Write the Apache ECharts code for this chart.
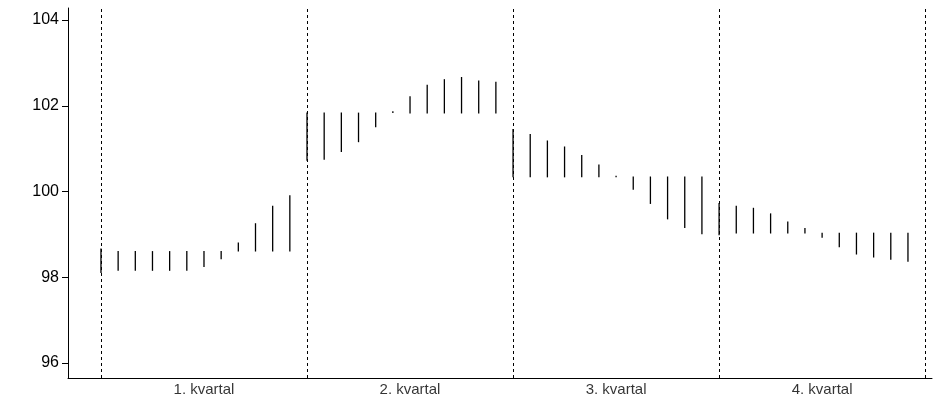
<!doctype html>
<html>
<head>
<meta charset="UTF-8">
<script src="https://cdn.jsdelivr.net/npm/echarts@6/dist/echarts.min.js"></script>
<style>body{margin:0}#main{width:934px;height:413px}</style>
</head>
<body>
<div id="main"></div>
<script>
// range per month (high, low)
var highs = [98.67, 98.61, 98.61, 98.61, 98.61, 98.61, 98.61, 98.61, 98.81, 99.26, 99.67, 99.91,
             101.84, 101.84, 101.84, 101.84, 101.84, 101.87, 102.22, 102.49, 102.62, 102.67, 102.59, 102.56,
             101.46, 101.34, 101.19, 101.05, 100.85, 100.63, 100.37, 100.35, 100.35, 100.35, 100.35, 100.35,
             99.73, 99.67, 99.62, 99.49, 99.30, 99.15, 99.04, 99.04, 99.04, 99.04, 99.04, 99.04];
var lows  = [98.10, 98.15, 98.15, 98.15, 98.15, 98.15, 98.24, 98.42, 98.60, 98.60, 98.60, 98.60,
             100.72, 100.74, 100.92, 101.15, 101.50, 101.83, 101.82, 101.82, 101.82, 101.82, 101.82, 101.82,
             100.33, 100.33, 100.33, 100.33, 100.33, 100.33, 100.33, 100.04, 99.71, 99.35, 99.15, 99.00,
             98.98, 99.02, 99.02, 99.02, 99.02, 99.02, 98.92, 98.70, 98.53, 98.46, 98.41, 98.36];
var quarters = ['1. kvartal', '2. kvartal', '3. kvartal', '4. kvartal'];
var dividers = [0, 12, 24, 36, 48];
var yTicks = [96, 98, 100, 102, 104];
var yMin = 95.65, yMax = 104.28;

var ranges = highs.map(function (h, i) { return [i, lows[i], h]; });

var chart = echarts.init(document.getElementById('main'));
chart.setOption({
  animation: false,
  grid: {left: 68, right: 2, top: 8, bottom: 35},
  xAxis: {
    type: 'value', min: -1.92, max: 48.4,
    axisLine: {onZero: false, lineStyle: {color: '#000'}},
    axisTick: {show: false}, axisLabel: {show: false}, splitLine: {show: false}
  },
  yAxis: {
    type: 'value', min: yMin, max: yMax,
    axisLine: {show: true, onZero: false, lineStyle: {color: '#000'}},
    axisTick: {show: true, length: 6, lineStyle: {color: '#000'}, customValues: yTicks},
    axisLabel: {color: '#000', fontSize: 16, fontFamily: 'Liberation Sans', margin: 9,
      customValues: yTicks},
    splitLine: {show: false}
  },
  series: [
    {
      type: 'custom',
      data: ranges,
      renderItem: function (params, api) {
        var a = api.coord([api.value(0), api.value(1)]);
        var b = api.coord([api.value(0), api.value(2)]);
        return {type: 'line', shape: {x1: a[0], y1: a[1], x2: b[0], y2: b[1]},
          style: {stroke: '#000', lineWidth: 1.3}};
      },
      markLine: {
        silent: true, symbol: 'none', label: {show: false},
        lineStyle: {color: '#000', type: [3, 3], width: 1},
        data: dividers.map(function (d) { return {xAxis: d}; })
      }
    },
    {
      type: 'scatter', symbolSize: 0, clip: false,
      data: quarters.map(function (q, i) { return [i * 12 + 6, yMin]; }),
      label: {show: true, position: 'bottom', distance: 4, color: '#000', fontSize: 15,
        fontFamily: 'Liberation Sans',
        formatter: function (p) { return quarters[p.dataIndex]; }}
    }
  ]
});
</script>
</body>
</html>
